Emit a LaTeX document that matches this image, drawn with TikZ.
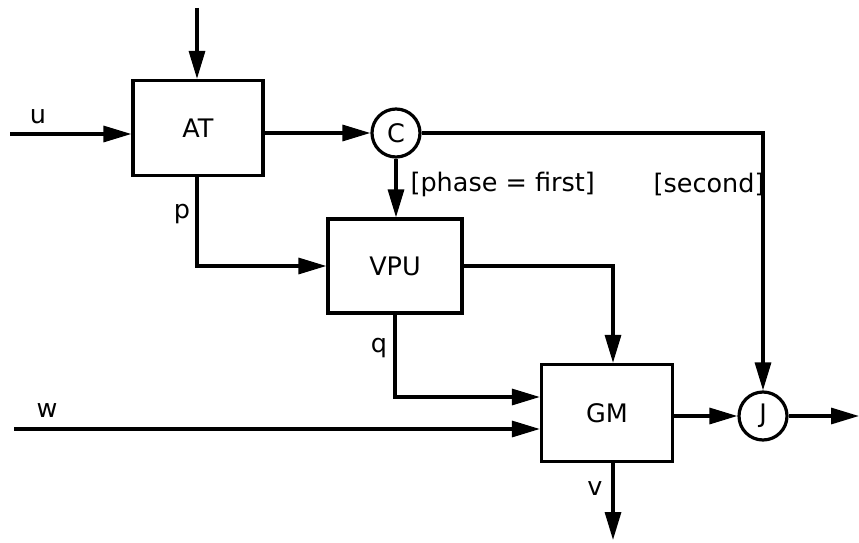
\documentclass[tikz,border=0pt]{standalone}
\usepackage{fontspec}
\setmainfont{DejaVu Sans}
\usetikzlibrary{arrows.meta, positioning, calc}

\begin{document}
\begin{tikzpicture}[
    x=1pt, y=-1pt,
    line width=3.2pt,
    block/.style={rectangle, draw, inner sep=0pt, font=\fontsize{25.5}{30}\selectfont},
    junction/.style={circle, draw, minimum size=48pt, inner sep=0pt, font=\fontsize{25.5}{30}\selectfont},
    lbl/.style={inner sep=0pt, font=\fontsize{25.5}{30}\selectfont},
    >={Triangle[length=28pt, width=16pt]}
]
\useasboundingbox (0,0) rectangle (859,543);

\node[block, minimum width=130pt, minimum height=95pt] (at) at (198,128) {AT};
\node[junction] (c) at (396,133) {C};
\node[block, minimum width=134pt, minimum height=94pt] (vpu) at (395,266) {VPU};
\node[block, minimum width=131pt, minimum height=97pt] (gm) at (607,413) {GM};
\node[junction] (j) at (763,416) {J};

\coordinate (top) at (197,8);
\coordinate (uin) at (10,134);
\coordinate (win) at (14,429);
\coordinate (gmx) at (613,0);
\coordinate (jout) at (859,416);
\coordinate (vout) at (613,540);

\node[lbl] (ulbl) at (38,117) {u};
\node[lbl] (plbl) at (182,214) {p};
\node[lbl] (qlbl) at (379,348) {q};
\node[lbl] (wlbl) at (47,411) {w};
\node[lbl] (vlbl) at (595,489) {v};
\node[lbl, anchor=west] (first) at (409,184) {[phase = first]};
\node[lbl, anchor=west] (second) at (652,184) {[second]};

\draw[->] (top) -- (top |- at.north);
\draw[->] (uin) -- (uin -| at.west);
\draw[->] (at.east |- c.west) -- (c.west);
\draw[->] (c.south) -- (c.south |- vpu.north);
\draw[->] (c.east) -| (j.north);
\draw[->] (top |- at.south) |- (vpu.west);
\draw[->] (vpu.east) -| (gmx |- gm.north);
\draw[->] (vpu.south) |- ($(gm.west)+(0,-16)$);
\draw[->] (win) -- (win -| gm.west);
\draw[->] (gm.east |- j.west) -- (j.west);
\draw[->] (j.east) -- (jout);
\draw[->] (gmx |- gm.south) -- (vout);
\end{tikzpicture}
\end{document}
